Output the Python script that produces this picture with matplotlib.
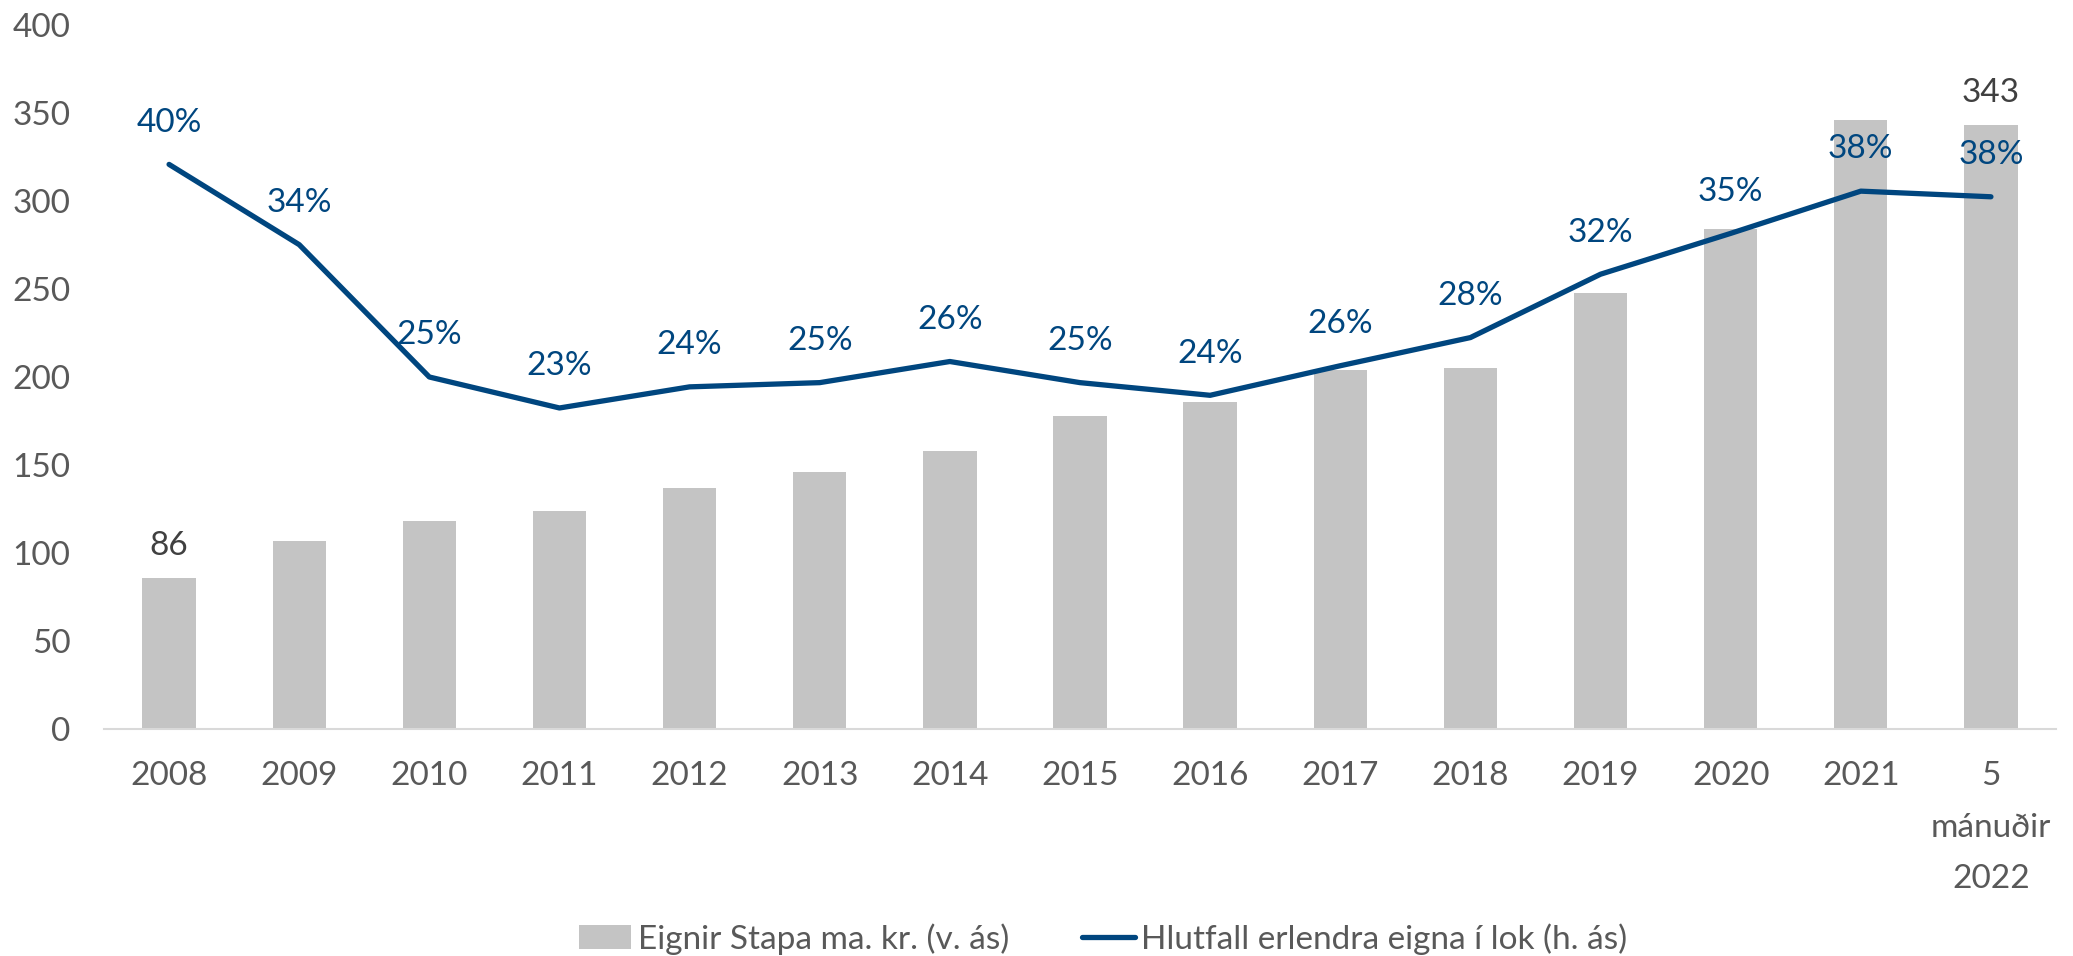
import matplotlib
matplotlib.use("Agg")
import matplotlib.pyplot as plt
from matplotlib.patches import Patch
from matplotlib.lines import Line2D

# Data
categories = ["2008", "2009", "2010", "2011", "2012", "2013", "2014", "2015",
              "2016", "2017", "2018", "2019", "2020", "2021", "5\nmánuðir\n2022"]
assets = [86, 107, 118, 124, 137, 146, 158, 178, 186, 204, 205, 248, 284, 346, 343]
foreign_share = [0.401, 0.344, 0.250, 0.228, 0.243, 0.246, 0.261, 0.246, 0.237,
                 0.258, 0.278, 0.323, 0.352, 0.382, 0.378]
left_ticks = [0, 50, 100, 150, 200, 250, 300, 350, 400]
labelled_bars = [0, 14]

bar_label = "Eignir Stapa ma. kr. (v. ás)"
line_label = "Hlutfall erlendra eigna í lok (h. ás)"

BAR_COLOR = "#C4C4C4"
LINE_COLOR = "#00467F"
TICK_COLOR = "#595959"
VALUE_COLOR = "#404040"
FS = 24

plt.rcParams["font.family"] = ["Lato", "DejaVu Sans"]

fig = plt.figure(figsize=(20.73, 9.56), dpi=100)
ax = fig.add_axes([104 / 2073, 1 - 729 / 956, (2056 - 104) / 2073, (729 - 25) / 956])

x = list(range(len(categories)))
ax.bar(x, assets, width=0.41, color=BAR_COLOR, zorder=2)
ax.set_xlim(-0.5, len(categories) - 0.5)
ax.set_ylim(0, 400)
ax.set_yticks(left_ticks)
ax.set_xticks(x)
ax.set_xticklabels(categories, linespacing=1.9)
ax.tick_params(axis="y", length=0, pad=24, labelsize=FS, labelcolor=TICK_COLOR)
ax.tick_params(axis="x", length=0, pad=23, labelsize=FS, labelcolor=TICK_COLOR)
for side in ("top", "right", "left"):
    ax.spines[side].set_visible(False)
ax.spines["bottom"].set_color("#D9D9D9")
ax.spines["bottom"].set_linewidth(1.5)
ax.spines["bottom"].set_zorder(3)

for i in labelled_bars:
    ax.annotate(f"{assets[i]:.0f}", (x[i], assets[i]), xytext=(0, 23),
                textcoords="offset points", ha="center", va="center",
                fontsize=FS, color=VALUE_COLOR)

# Share of foreign assets on a hidden secondary axis
ax2 = ax.twinx()
ax2.set_ylim(0, 0.5)
ax2.axis("off")
ax2.plot(x, foreign_share, color=LINE_COLOR, linewidth=3.8,
         solid_capstyle="round", solid_joinstyle="round", zorder=4)
for xi, v in zip(x, foreign_share):
    ax2.annotate(f"{v * 100:.0f}%", (xi, v), xytext=(0, 30),
                 textcoords="offset points", ha="center", va="center",
                 fontsize=FS, color=LINE_COLOR)

handles = [Patch(facecolor=BAR_COLOR, edgecolor="none"),
           Line2D([0], [0], color=LINE_COLOR, linewidth=3.8, solid_capstyle="round")]
fig.legend(handles, [bar_label, line_label], loc="center",
           bbox_to_anchor=(1103 / 2073, 1 - 939 / 956), ncol=2, frameon=False,
           fontsize=FS, labelcolor=TICK_COLOR, handlelength=1.57, handleheight=0.73,
           handletextpad=0.2, columnspacing=2.2, borderpad=0.1)

fig.savefig("out.png", dpi=100)
